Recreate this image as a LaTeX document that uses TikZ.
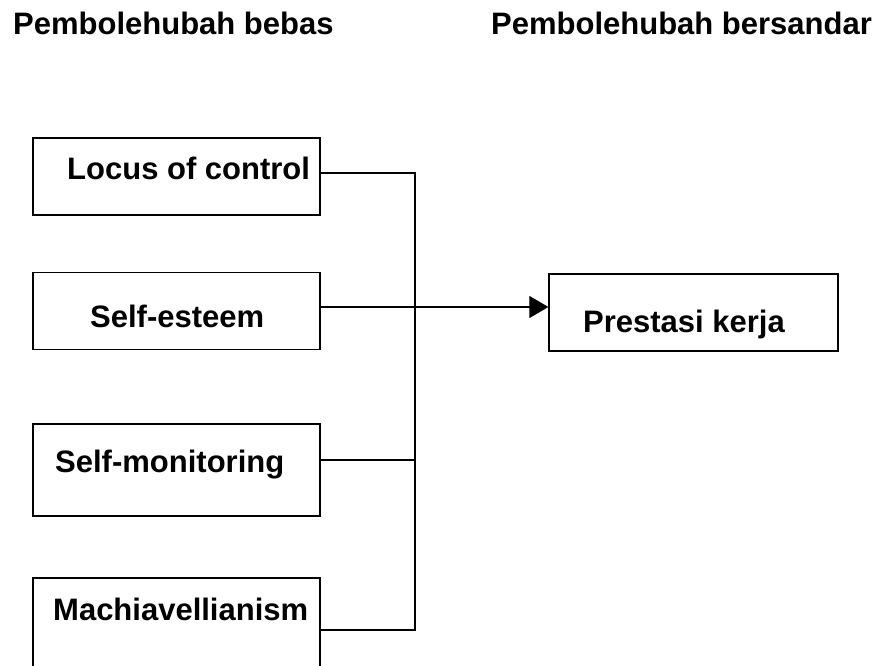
\documentclass[tikz,border=0pt]{standalone}
\usepackage{fontspec}
\setmainfont{Liberation Sans}
\usetikzlibrary{positioning, arrows.meta}

\begin{document}
\begin{tikzpicture}[x=1pt, y=-1pt,
    box/.style={draw, line width=1.3pt, minimum width=287pt, minimum height=77pt, inner sep=0pt},
    txt/.style={anchor=base west, inner sep=0pt, font=\fontsize{31}{36}\selectfont\bfseries},
    link/.style={line width=1.1pt}
    ]
    \useasboundingbox (0,0) rectangle (892,666);
    \clip (0,0) rectangle (892,666);

    % Headings
    \node[txt] (hbebas) at (13,35) {Pembolehubah bebas};
    \node[txt] (hsandar) at (491,35) {Pembolehubah bersandar};

    % Boxes
    \node[box] (loc) at (176.5,176.5) {};
    \node[box] (est) at (176.5,311) {};
    \node[box, minimum height=92pt] (mon) at (176.5,470) {};
    \node[box, minimum height=92pt] (mach) at (176.5,624) {};
    \node[box, minimum width=289pt] (pk) at (693.5,312.5) {};

    % Labels
    \node[txt] (loc-t) at (67,179) {Locus of control};
    \node[txt] (est-t) at (90,327) {Self-esteem};
    \node[txt] (mon-t) at (55,472) {Self-monitoring};
    \node[txt] (mach-t) at (53,620) {Machiavellianism};
    \node[txt] (pk-t) at (583,332) {Prestasi kerja};

    % Connectors
    \coordinate (j1) at (415,173);
    \coordinate (j2) at (415,307);
    \coordinate (j3) at (415,460);
    \coordinate (j4) at (415,630);
    \draw[link] (loc.east |- j1) -- (j1) -- (j4) -- (mach.east |- j4);
    \draw[link] (mon.east |- j3) -- (j3);
    \draw[link, -{Triangle[length=19pt, width=22pt]}] (est.east |- j2) -- (j2 -| pk.west);

\end{tikzpicture}
\end{document}
